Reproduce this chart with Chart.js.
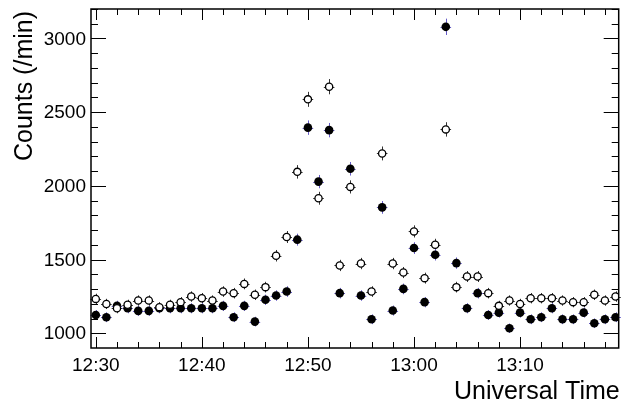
<!DOCTYPE html>
<html>
<head>
<meta charset="utf-8">
<script src="https://cdn.jsdelivr.net/npm/chart.js@4/dist/chart.umd.min.js"></script>
<style>
    body { margin: 0; background: #fff; }
    .wrap { width: 624px; height: 403px; position: relative; }
</style>
</head>
<body>
<div class="wrap"><canvas id="myChart"></canvas></div>
<script>
// minutes after 12:30 UT, one bin per minute
const minutes = [];
for (let m = 0; m < 50; m++) minutes.push(m);

// open circles
const countsOpen = [
    1233, 1199, 1170, 1193, 1222, 1222, 1177, 1193, 1211, 1249,
    1238, 1222, 1283, 1272, 1335, 1261, 1313, 1526, 1653, 2095,
    2587, 1916, 2673, 1460, 1993, 1473, 1283, 2220, 1473, 1412,
    1691, 1374, 1601, 2383, 1313, 1385, 1385, 1272, 1186, 1222,
    1199, 1238, 1238, 1238, 1222, 1211, 1211, 1261, 1222, 1249
];

// filled circles
const countsFilled = [
    1124, 1109, 1186, 1170, 1152, 1152, 1170, 1170, 1170, 1170,
    1170, 1170, 1186, 1109, 1186, 1079, 1227, 1256, 1283, 1635,
    2395, 2029, 2378, 1272, 2116, 1256, 1095, 1854, 1154, 1301,
    1578, 1211, 1533, 3079, 1476, 1170, 1272, 1124, 1140, 1034,
    1140, 1095, 1109, 1170, 1095, 1095, 1140, 1068, 1095, 1109
];

const xTickValues = [0, 10, 20, 30, 40];
const xTickLabels = ['12:30', '12:40', '12:50', '13:00', '13:10'];
const yTickValues = [1000, 1500, 2000, 2500, 3000];

const fontFamily = '"Liberation Sans", Arial, Helvetica, sans-serif';

// poisson error bars, drawn under the markers
const errorBars = {
    id: 'errorBars',
    beforeDatasetsDraw(chart) {
        const {ctx, scales: {x, y}} = chart;
        ctx.save();
        ctx.lineWidth = 1;
        chart.data.datasets.forEach((ds) => {
            ctx.strokeStyle = ds.errColor;
            ds.data.forEach((p) => {
                const px = Math.round(x.getPixelForValue(p.x)) + 0.5;
                const py = Math.round(y.getPixelForValue(p.y)) + 0.5;
                const e = Math.sqrt(p.y);
                ctx.beginPath();
                ctx.moveTo(px, y.getPixelForValue(p.y + e));
                ctx.lineTo(px, y.getPixelForValue(p.y - e));
                ctx.moveTo(x.getPixelForValue(p.x - 0.5), py);
                ctx.lineTo(x.getPixelForValue(p.x + 0.5), py);
                ctx.stroke();
            });
        });
        ctx.restore();
    }
};

// ROOT style frame with inward ticks on all four sides, plus labels
const frame = {
    id: 'frame',
    afterDraw(chart) {
        const {ctx, chartArea: a, scales: {x, y}} = chart;
        ctx.save();
        ctx.strokeStyle = '#000';
        ctx.lineWidth = 1;
        ctx.beginPath();
        for (let m = 0; m <= 48; m += 2) {
            const px = Math.round(x.getPixelForValue(m)) + 0.5;
            const len = m % 10 === 0 ? 11 : 6;
            ctx.moveTo(px, a.bottom); ctx.lineTo(px, a.bottom - len);
            ctx.moveTo(px, a.top); ctx.lineTo(px, a.top + len);
        }
        for (let v = 1000; v <= 3200; v += 100) {
            const py = Math.round(y.getPixelForValue(v)) + 0.5;
            const len = v % 500 === 0 ? 15 : 7;
            ctx.moveTo(a.left, py); ctx.lineTo(a.left + len, py);
            ctx.moveTo(a.right, py); ctx.lineTo(a.right - len, py);
        }
        ctx.stroke();
        ctx.lineWidth = 1.5;
        ctx.strokeRect(a.left, a.top, a.right - a.left, a.bottom - a.top);

        ctx.fillStyle = '#000';
        ctx.font = '19px ' + fontFamily;
        ctx.textAlign = 'right';
        ctx.textBaseline = 'middle';
        yTickValues.forEach((v) => {
            ctx.fillText(String(v), a.left - 5, y.getPixelForValue(v) + 1);
        });
        ctx.textAlign = 'center';
        ctx.textBaseline = 'alphabetic';
        xTickValues.forEach((v, i) => {
            ctx.fillText(xTickLabels[i], x.getPixelForValue(v), a.bottom + 23);
        });

        ctx.font = '25px ' + fontFamily;
        ctx.textAlign = 'right';
        ctx.fillText('Universal Time', a.right + 1, 399);

        ctx.translate(32, 11);
        ctx.rotate(-Math.PI / 2);
        ctx.textAlign = 'right';
        ctx.fillText('Counts (/min)', 0, 0);
        ctx.restore();
    }
};

new Chart(document.getElementById('myChart'), {
    type: 'scatter',
    data: {
        datasets: [
            {
                label: 'open',
                data: minutes.map((m, i) => ({x: m, y: countsOpen[i]})),
                pointStyle: 'circle',
                pointRadius: 3.6,
                pointBackgroundColor: '#fff',
                pointBorderColor: '#000',
                pointBorderWidth: 1.3,
                errColor: '#333'
            },
            {
                label: 'filled',
                data: minutes.map((m, i) => ({x: m, y: countsFilled[i]})),
                pointStyle: 'circle',
                pointRadius: 4.3,
                pointBackgroundColor: '#000',
                pointBorderColor: '#000',
                pointBorderWidth: 0,
                errColor: 'rgb(100, 90, 200)'
            }
        ]
    },
    options: {
        responsive: true,
        maintainAspectRatio: false,
        animation: false,
        layout: {padding: {top: 9, right: 3, left: 0, bottom: 0}},
        plugins: {
            legend: {display: false},
            tooltip: {enabled: false}
        },
        scales: {
            x: {
                type: 'linear',
                min: -0.45,
                max: 49.3,
                afterFit: (s) => { s.height = 55; },
                afterBuildTicks: (s) => { s.ticks = xTickValues.map(v => ({value: v})); },
                grid: {display: false},
                border: {display: false},
                ticks: {display: false}
            },
            y: {
                min: 900,
                max: 3200,
                afterFit: (s) => { s.width = 91; },
                afterBuildTicks: (s) => { s.ticks = yTickValues.map(v => ({value: v})); },
                grid: {display: false},
                border: {display: false},
                ticks: {display: false}
            }
        }
    },
    plugins: [errorBars, frame]
});
</script>
</body>
</html>
